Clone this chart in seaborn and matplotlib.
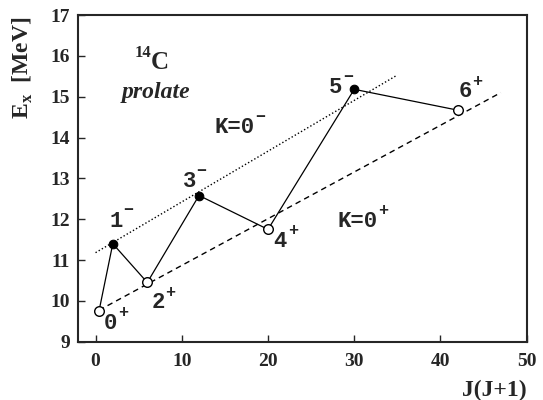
import matplotlib
matplotlib.use("Agg")
import matplotlib.pyplot as plt
import seaborn as sns
import pandas as pd

# Level scheme of 14C: excitation energy against J(J+1)
jj = [0.4, 2, 6, 12, 20, 30, 42]
energy = [9.75, 11.40, 10.45, 12.58, 11.75, 15.18, 14.67]
spin = ["0", "1", "2", "3", "4", "5", "6"]
parity = ["+", "-", "+", "-", "+", "-", "+"]

# Rotational band guide lines (K=0- dotted, K=0+ dashed)
band_minus_x = [0, 35]
band_minus_y = [11.18, 15.53]
band_plus_x = [0.4, 47]
band_plus_y = [9.77, 15.10]

x_ticks = [0, 10, 20, 30, 40, 50]
y_ticks = [9, 10, 11, 12, 13, 14, 15, 16, 17]

sns.set_style("ticks")
plt.rcParams["font.family"] = ["Liberation Serif", "DejaVu Serif"]
plt.rcParams["mathtext.fontset"] = "custom"
plt.rcParams["mathtext.rm"] = "Liberation Serif"
plt.rcParams["mathtext.bf"] = "Liberation Serif:bold"

levels = pd.DataFrame({"jj": jj, "E": energy, "spin": spin, "parity": parity})
minus_band = pd.DataFrame({"x": band_minus_x, "y": band_minus_y})
plus_band = pd.DataFrame({"x": band_plus_x, "y": band_plus_y})

fig = plt.figure(figsize=(5.43, 4.00), dpi=100)
ax = fig.add_axes([78.3 / 543, 1 - 341.7 / 400, (526.7 - 78.3) / 543, (341.7 - 15) / 400])

sns.lineplot(data=minus_band, x="x", y="y", ax=ax, color="black", lw=1.0,
             linestyle=(0, (1, 1.6)))
sns.lineplot(data=plus_band, x="x", y="y", ax=ax, color="black", lw=1.0,
             linestyle=(0, (4, 3)))
sns.lineplot(data=levels, x="jj", y="E", ax=ax, sort=False, color="black", lw=0.9,
             estimator=None)
sns.scatterplot(data=levels[levels.parity == "-"], x="jj", y="E", ax=ax, s=38,
                color="black", edgecolor="black", linewidth=0.8, zorder=5)
sns.scatterplot(data=levels[levels.parity == "+"], x="jj", y="E", ax=ax, s=48,
                facecolor="white", edgecolor="black", linewidth=1.0, zorder=5)

ax.set_xlim(-2, 50)
ax.set_ylim(9, 17)
ax.set_xticks(x_ticks)
ax.set_yticks(y_ticks)
ax.set_xlabel("")
ax.set_ylabel("")
for s in ax.spines.values():
    s.set_linewidth(1.5)
ax.tick_params(direction="in", length=5, width=1, labelsize=14, top=False, right=False)
ax.tick_params(axis="x", pad=8)
ax.tick_params(axis="y", pad=6)
for lab in ax.get_xticklabels() + ax.get_yticklabels():
    lab.set_fontweight("bold")

mono = ["Liberation Mono", "DejaVu Sans Mono"]
FS = 16
SUP = 12


def state_label(x, y, main, sup):
    ax.text(x, y, main, fontsize=FS, family=mono, fontweight="bold", ha="left",
            va="baseline")
    ax.annotate(sup, xy=(x, y), xytext=(0.6 * FS * len(main) + 0.5, 0.52 * FS),
                textcoords="offset points", fontsize=SUP, family=mono,
                fontweight="bold", ha="left", va="baseline")


label_pos = {
    "0": (1.0, 9.31),
    "1": (1.6, 11.81),
    "2": (6.45, 9.82),
    "3": (10.1, 12.78),
    "4": (20.65, 11.33),
    "5": (27.05, 15.08),
    "6": (42.05, 14.99),
}
for sp, par in zip(spin, parity):
    lx, ly = label_pos[sp]
    state_label(lx, ly, sp, "\u2212" if par == "-" else "+")

state_label(13.85, 14.10, "K=0", "\u2212")
state_label(28.05, 11.82, "K=0", "+")

# Nucleus name and shape
ax.annotate("14", xy=(4.5, 15.67), xytext=(0, 9), textcoords="offset points",
            fontsize=12, fontweight="bold", ha="left", va="baseline")
ax.annotate("C", xy=(4.5, 15.67), xytext=(12, 0), textcoords="offset points",
            fontsize=18, fontweight="bold", ha="left", va="baseline")
ax.text(6.97, 14.96, "prolate", fontsize=17, fontweight="bold", fontstyle="italic",
        ha="center", va="baseline")

fig.text(23 / 543, 1 - 68 / 400, r"E$_\mathbf{x}$  [MeV]", rotation=90, fontsize=17,
         fontweight="bold", ha="center", va="center")
fig.text(526.7 / 543, 1 - 390 / 400, "J(J+1)", fontsize=17, fontweight="bold",
         ha="right", va="center")

fig.savefig("out.png", dpi=100)
